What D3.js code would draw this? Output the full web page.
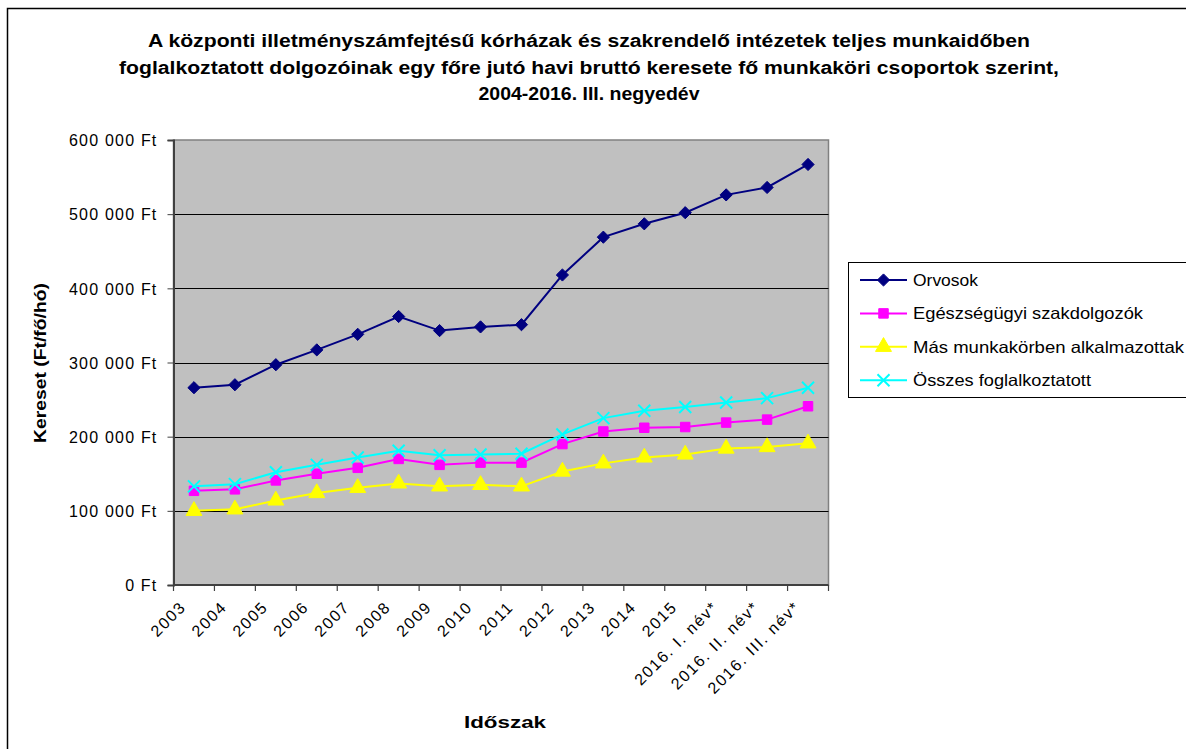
<!DOCTYPE html>
<html>
<head>
<meta charset="utf-8">
<script src="https://cdn.jsdelivr.net/npm/d3@7"></script>
<style>
  html, body { margin: 0; padding: 0; background: #fff; }
  svg { display: block; font-family: "Liberation Sans", Arial, sans-serif; }
</style>
</head>
<body>
<svg id="chart" width="1186" height="749"></svg>
<script>
const categories = ["2003","2004","2005","2006","2007","2008","2009","2010","2011","2012","2013","2014","2015","2016. I. név*","2016. II. név*","2016. III. név*"];
const orvosok   = [266000,270000,297000,317000,338000,362000,343000,348000,351000,418000,469000,487000,502000,526000,536000,567000];
const egeszseg  = [127000,129000,141000,150000,158000,170000,162000,165000,165000,190000,207000,212000,213000,219000,223000,241000];
const mas       = [100000,102000,114000,124000,131000,137000,133000,135000,133000,153000,164000,172000,176000,184000,186000,191000];
const osszes    = [133000,136000,152000,162000,172000,181000,175000,176000,177000,203000,225000,235000,240000,246000,252000,266000];
const yTicks    = [0,100000,200000,300000,400000,500000,600000];
const seriesNames = ["Orvosok","Egészségügyi szakdolgozók","Más munkakörben alkalmazottak","Összes foglalkoztatott"];
const titleLines = ["A központi illetményszámfejtésű kórházak és szakrendelő intézetek teljes munkaidőben",
                    "foglalkoztatott dolgozóinak egy főre jutó havi bruttó keresete fő munkaköri csoportok szerint,",
                    "2004-2016. III. negyedév"];

// rendered text widths (styling only)
const titleWidths = [882, 940, 221];
const legendWidths = [65, 230, 271, 178];

const series = [
  {name: seriesNames[0], values: orvosok,  color: "#000080", marker: "diamond"},
  {name: seriesNames[1], values: egeszseg, color: "#FF00FF", marker: "square"},
  {name: seriesNames[2], values: mas,      color: "#FFFF00", marker: "triangle"},
  {name: seriesNames[3], values: osszes,   color: "#00FFFF", marker: "x"}
];

const svg = d3.select("#chart");
const M = {left: 173.5, right: 828.5, top: 140, bottom: 585};

// outer chart border
svg.append("rect").attr("x", 7.5).attr("y", 8.5).attr("width", 1200).attr("height", 800)
  .attr("fill", "#fff").attr("stroke", "#000").attr("stroke-width", 1.5);

const x = d3.scaleBand().domain(categories).range([M.left, M.right]).padding(0);
const y = d3.scaleLinear().domain([0, 600000]).range([M.bottom, M.top]);
const cx = d => x(d) + x.bandwidth() / 2;

// plot area
svg.append("rect").attr("x", M.left).attr("y", M.top).attr("width", M.right - M.left).attr("height", M.bottom - M.top)
  .attr("fill", "#C0C0C0").attr("stroke", "#808080").attr("stroke-width", 1.5);

// gridlines
svg.append("g").selectAll("line").data(yTicks.filter(t => t > 0 && t < 600000)).join("line")
  .attr("x1", M.left).attr("x2", M.right)
  .attr("y1", d => Math.round(y(d)) + 0.5).attr("y2", d => Math.round(y(d)) + 0.5)
  .attr("stroke", "#000").attr("stroke-width", 1);

// y axis
const fmt = v => d3.format(",")(v).replace(/,/g, "\u00a0") + " Ft";
const yAxis = svg.append("g").attr("transform", `translate(${M.left},0)`)
  .call(d3.axisLeft(y).tickValues(yTicks).tickSize(6).tickPadding(10).tickFormat(fmt));
yAxis.select(".domain").attr("stroke", "#404040").attr("stroke-width", 2);
yAxis.selectAll(".tick line").attr("stroke", "#404040");
yAxis.selectAll(".tick text").attr("font-size", 16).attr("fill", "#000")
  .attr("font-family", "'Liberation Sans', Arial, sans-serif").attr("letter-spacing", 1.2).attr("dy", "0.36em");

// x axis
const xg = svg.append("g");
xg.append("line").attr("x1", M.left).attr("x2", M.right).attr("y1", M.bottom).attr("y2", M.bottom)
  .attr("stroke", "#404040").attr("stroke-width", 2);
const boundaries = categories.map(c => x(c)).concat([x(categories[categories.length - 1]) + x.bandwidth()]);
xg.selectAll("line.t").data(boundaries).join("line").attr("class", "t")
  .attr("x1", d => d).attr("x2", d => d).attr("y1", M.bottom).attr("y2", M.bottom + 6)
  .attr("stroke", "#404040").attr("stroke-width", 1.2);
xg.selectAll("text").data(categories).join("text")
  .attr("transform", d => `translate(${cx(d) - 7},${M.bottom + 23}) rotate(-45)`)
  .attr("text-anchor", "end").attr("font-size", 16).attr("letter-spacing", 1.6)
  .text(d => d);

// lines and markers
const line = d3.line().x((v, i) => cx(categories[i])).y(v => y(v));
const markerPath = (type) => {
  if (type === "diamond") return d3.symbol(d3.symbolDiamond2, 95)();
  if (type === "square") return d3.symbol(d3.symbolSquare, 90)();
  if (type === "triangle") return d3.symbol(d3.symbolTriangle, 110)();
  return "M-6,-6L6,6M-6,6L6,-6";
};
series.forEach(s => {
  svg.append("path").datum(s.values).attr("d", line)
    .attr("fill", "none").attr("stroke", s.color).attr("stroke-width", 2);
  const g = svg.append("g");
  g.selectAll("path").data(s.values).join("path")
    .attr("transform", (v, i) => `translate(${cx(categories[i])},${y(v)})`)
    .attr("d", markerPath(s.marker))
    .attr("fill", s.marker === "x" ? "none" : s.color)
    .attr("stroke", s.color).attr("stroke-width", s.marker === "x" ? 2 : 1);
});

// title
svg.append("g").selectAll("text").data(titleLines).join("text")
  .attr("x", 589).attr("y", (d, i) => 47 + i * 26.5)
  .attr("text-anchor", "middle").attr("font-size", 18).attr("font-weight", "bold")
  .attr("textLength", (d, i) => titleWidths[i]).attr("lengthAdjust", "spacingAndGlyphs")
  .text(d => d);

// axis titles
svg.append("text").attr("transform", `translate(46,363) rotate(-90)`).attr("text-anchor", "middle")
  .attr("font-size", 17).attr("font-weight", "bold")
  .attr("textLength", 160).attr("lengthAdjust", "spacingAndGlyphs").text("Kereset (Ft/fő/hó)");
svg.append("text").attr("x", 505).attr("y", 728).attr("text-anchor", "middle")
  .attr("font-size", 17).attr("font-weight", "bold")
  .attr("textLength", 82).attr("lengthAdjust", "spacingAndGlyphs").text("Időszak");

// legend
const lg = svg.append("g");
lg.append("rect").attr("x", 848.5).attr("y", 262.5).attr("width", 345).attr("height", 135)
  .attr("fill", "#fff").attr("stroke", "#000").attr("stroke-width", 1);
series.forEach((s, i) => {
  const yy = 280 + i * 33.4;
  lg.append("line").attr("x1", 860).attr("x2", 907).attr("y1", yy).attr("y2", yy)
    .attr("stroke", s.color).attr("stroke-width", 2);
  lg.append("path").attr("transform", `translate(883.5,${yy})`).attr("d", markerPath(s.marker))
    .attr("fill", s.marker === "x" ? "none" : s.color)
    .attr("stroke", s.color).attr("stroke-width", s.marker === "x" ? 2 : 1);
  lg.append("text").attr("x", 913).attr("y", yy).attr("dy", "0.36em")
    .attr("font-size", 16.5).attr("textLength", legendWidths[i]).attr("lengthAdjust", "spacingAndGlyphs")
    .text(s.name);
});
</script>
</body>
</html>
